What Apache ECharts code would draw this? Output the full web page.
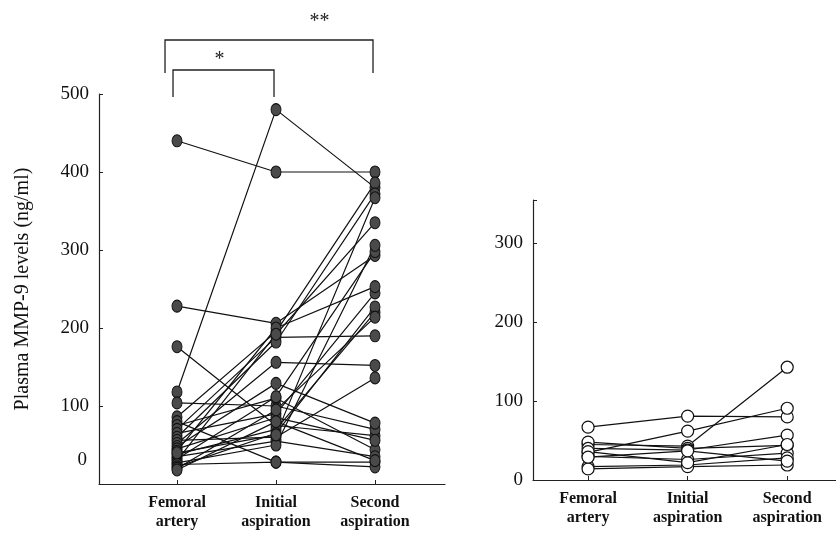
<!DOCTYPE html>
<html>
<head>
<meta charset="utf-8">
<script src="https://cdn.jsdelivr.net/npm/echarts@6/dist/echarts.min.js"></script>
<style>html,body{margin:0;padding:0;background:#fff}#c{width:836px;height:533px}</style>
</head>
<body>
<div id="c"></div>
<script>
// ---- data ----
const categories = ['Femoral\nartery', 'Initial\naspiration', 'Second\naspiration'];
const leftTicks = [0, 100, 200, 300, 400, 500];
const rightTicks = [0, 100, 200, 300];
// Left panel (filled dots), one entry per patient
const leftFemoral = [440, 228, 176, 118, 104, 86, 80, 75, 70, 65, 60, 56, 52, 48, 45, 42, 38, 35, 32, 30, 27, 25, 22, 20, 18, 40];
const leftInitial = [400, 206, 75, 480, 100, 195, 28, 110, 188, 90, 182, 60, 156, 129, 85, 200, 70, 55, 112, 192, 50, 28, 65, 95, 80, 63];
const leftSecond  = [400, 293, 62, 380, 70, 386, 28, 44, 190, 245, 372, 136, 152, 78, 56, 253, 220, 35, 298, 335, 306, 22, 227, 214, 30, 367];
// Right panel (open circles)
const rightFemoral = [67, 35, 45, 48, 40, 30, 17, 14, 36, 29];
const rightInitial = [81, 62, 43, 40, 38, 26, 19, 17, 22, 37];
const rightSecond  = [80, 91, 143, 44, 57, 34, 28, 19, 45, 24];
const sigLabels = ['*', '**'];

const FONT = '"Liberation Serif", "DejaVu Serif", serif';
const chart = echarts.init(document.getElementById('c'));

function xAxisCfg(gi, min, max) {
  return {
    type: 'value', gridIndex: gi, min: min, max: max,
    splitLine: {show: false},
    axisLine: {show: true, onZero: false, lineStyle: {color: '#222', width: 1.2}},
    axisTick: {show: true, inside: true, length: 4, customValues: [0, 1, 2], lineStyle: {color: '#222'}},
    axisLabel: {
      customValues: [0, 1, 2], margin: 9,
      formatter: v => categories[Math.round(v)],
      fontFamily: FONT, fontSize: 16, lineHeight: 19, color: '#111', fontWeight: 'bold'
    }
  };
}
function yAxisCfg(gi, max, ticks, extra) {
  return Object.assign({
    type: 'value', gridIndex: gi, min: 0, max: max, interval: 100,
    splitLine: {show: false},
    axisLine: {show: true, onZero: false, lineStyle: {color: '#222', width: 1.2}},
    axisTick: {show: true, inside: true, length: 4, lineStyle: {color: '#222'}},
    axisLabel: {
      margin: 10, fontFamily: FONT, fontSize: 19, color: '#111',
      formatter: v => (ticks.indexOf(v) >= 0 ? String(v) : '')
    }
  }, extra || {});
}

const series = [];
function addPanel(gi, F, I, S, filled) {
  for (let i = 0; i < F.length; i++) {
    series.push({
      type: 'line', xAxisIndex: gi, yAxisIndex: gi, z: 2,
      data: [[0, F[i]], [1, I[i]], [2, S[i]]],
      showSymbol: false, symbol: 'none', silent: true,
      lineStyle: {color: '#111', width: 1.2}
    });
  }
  const pts = [];
  for (let i = 0; i < F.length; i++) {
    pts.push([0, F[i]], [1, I[i]], [2, S[i]]);
  }
  series.push({
    type: 'scatter', xAxisIndex: gi, yAxisIndex: gi, z: 3,
    data: pts, symbol: 'circle',
    symbolSize: filled ? [10, 12] : 12,
    itemStyle: filled
      ? {color: '#4a4a4a', borderColor: '#111', borderWidth: 1, opacity: 1}
      : {color: '#fff', borderColor: '#111', borderWidth: 1.2, opacity: 1}
  });
}
addPanel(0, leftFemoral, leftInitial, leftSecond, true);
addPanel(1, rightFemoral, rightInitial, rightSecond, false);

const leftY = yAxisCfg(0, 500, leftTicks, {
  name: 'Plasma MMP-9 levels (ng/ml)', nameLocation: 'middle', nameRotate: 90, nameGap: 66,
  nameTextStyle: {fontFamily: FONT, fontSize: 20, color: '#111'}
});
leftY.axisLabel.formatter = v => (v === 0 ? '{z|0}' : (leftTicks.indexOf(v) >= 0 ? String(v) : ''));
leftY.axisLabel.rich = {z: {fontFamily: FONT, fontSize: 19, color: '#111', padding: [0, 2, 48, 0]}};

chart.setOption({
  animation: false,
  backgroundColor: '#fff',
  grid: [
    {left: 99, top: 94, width: 346, bottom: 49},
    {left: 533, top: 200, right: 0, bottom: 53}
  ],
  xAxis: [xAxisCfg(0, -0.788, 2.707), xAxisCfg(1, -0.553, 2.49)],
  yAxis: [leftY, yAxisCfg(1, 355, rightTicks)],
  series: series
});

// significance brackets positioned from the axis scale
const p0 = chart.convertToPixel({gridIndex: 0}, [0, 0]);
const p1 = chart.convertToPixel({gridIndex: 0}, [1, 0]);
const p2 = chart.convertToPixel({gridIndex: 0}, [2, 0]);
const x0 = p0[0], x1 = p1[0], x2 = p2[0];
const ls = {stroke: '#222', lineWidth: 1.3, fill: null};
chart.setOption({
  graphic: [
    {type: 'polyline', shape: {points: [[x0 - 12, 73], [x0 - 12, 40], [x2 - 2, 40], [x2 - 2, 73]]}, style: ls},
    {type: 'polyline', shape: {points: [[x0 - 4, 97], [x0 - 4, 70], [x1 - 2, 70], [x1 - 2, 97]]}, style: ls},
    {type: 'text', x: (x0 + x1) / 2 - 7, y: 60, style: {text: sigLabels[0], font: '20px ' + FONT, fill: '#222', textAlign: 'center', textVerticalAlign: 'middle'}},
    {type: 'text', x: x0 + (x2 - x0) * 0.72, y: 22, style: {text: sigLabels[1], font: '20px ' + FONT, fill: '#222', textAlign: 'center', textVerticalAlign: 'middle'}}
  ]
});
</script>
</body>
</html>
